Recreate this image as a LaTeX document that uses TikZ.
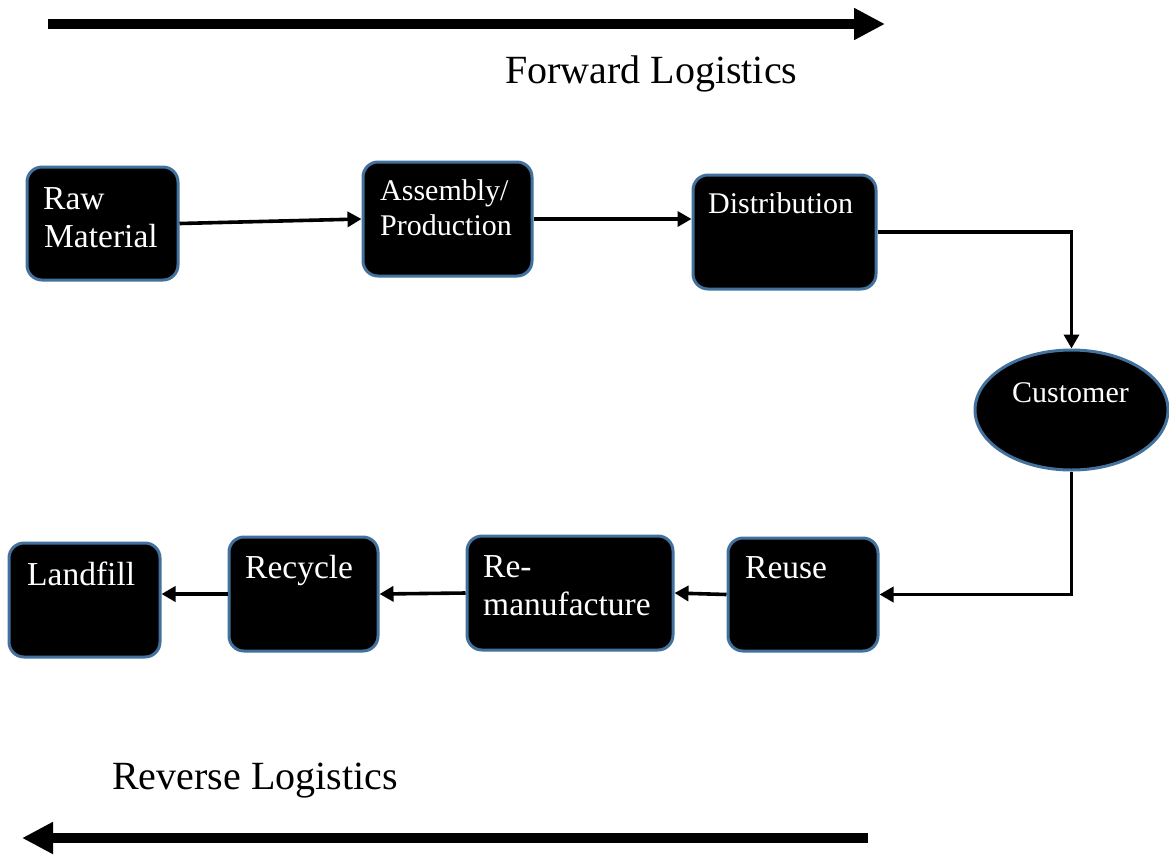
\documentclass[tikz,border=0pt]{standalone}
\usepackage{fontspec}
\setmainfont{Liberation Serif}
\usetikzlibrary{arrows.meta,shapes.geometric,calc}
\definecolor{boxedge}{HTML}{41719C}
\tikzset{
  stagebox/.style={draw=boxedge, line width=3pt, fill=black, rounded corners=15pt, inner sep=0pt},
  custshape/.style={draw=boxedge, line width=3pt, fill=black, ellipse, inner sep=0pt},
  bigtxt/.style={text=white, anchor=base west, inner sep=0pt, font=\fontsize{33.5}{36}\selectfont},
  smalltxt/.style={text=white, anchor=base west, inner sep=0pt, font=\fontsize{30}{33}\selectfont},
  titletxt/.style={text=black, anchor=base west, inner sep=0pt, font=\fontsize{40}{44}\selectfont},
  flow/.style={line width=3.6pt, -{Triangle[length=14pt,width=15pt]}},
  bigflow/.style={line width=10pt, -{Triangle[length=31pt,width=30pt]}}
}
\begin{document}
\begin{tikzpicture}[x=1pt,y=-1pt]
\useasboundingbox (0,0) rectangle (1169,855);
% big arrows
\coordinate (fa1) at (48,24);
\coordinate (fa2) at (885,24);
\coordinate (ra1) at (868,838);
\coordinate (ra2) at (22,838);
\draw[bigflow] (fa1) -- (fa2);
\draw[bigflow] (ra1) -- (ra2);
\node[titletxt] (fwd) at (505,83) {Forward Logistics};
\node[titletxt] (rev) at (112,789) {Reverse Logistics};
% boxes
\node[stagebox, minimum width=151pt, minimum height=113pt] (raw) at (102.5,223.5) {};
\node[stagebox, minimum width=169pt, minimum height=114pt] (asm) at (447.5,219) {};
\node[stagebox, minimum width=183pt, minimum height=114pt] (dist) at (784.5,232) {};
\node[custshape, minimum width=193pt, minimum height=120pt] (cust) at (1071.5,410) {};
\node[stagebox, minimum width=150pt, minimum height=113pt] (reuse) at (803,594.5) {};
\node[stagebox, minimum width=206pt, minimum height=114pt] (reman) at (570,593) {};
\node[stagebox, minimum width=149pt, minimum height=114pt] (recyc) at (303.5,594) {};
\node[stagebox, minimum width=151pt, minimum height=114pt] (land) at (84.5,600) {};
% texts
\node[bigtxt] (t1) at (43,209) {Raw};
\node[bigtxt] (t2) at (44,247) {Material};
\node[smalltxt] (t3) at (380,200) {Assembly/};
\node[smalltxt] (t4) at (380,235) {Production};
\node[smalltxt] (t5) at (708,213) {Distribution};
\node[smalltxt] (t6) at (1012,402) {Customer};
\node[bigtxt] (t7) at (745,578) {Reuse};
\node[bigtxt] (t8) at (483,577) {Re-};
\node[bigtxt] (t9) at (483,615) {manufacture};
\node[bigtxt] (t10) at (245,578) {Recycle};
\node[bigtxt] (t11) at (27,585) {Landfill};
% connectors
\draw[flow] (raw.east) -- (asm.west);
\draw[flow] (asm.east) -- (asm.east -| dist.west);
\draw[flow] (dist.east) -| (cust.north);
\draw[flow] (cust.south) |- (reuse.east);
\draw[flow] (reuse.west) -- (reman.east);
\draw[flow] (reman.west) -- (recyc.east);
\draw[flow] (recyc.west) -- (recyc.west -| land.east);
\end{tikzpicture}
\end{document}
